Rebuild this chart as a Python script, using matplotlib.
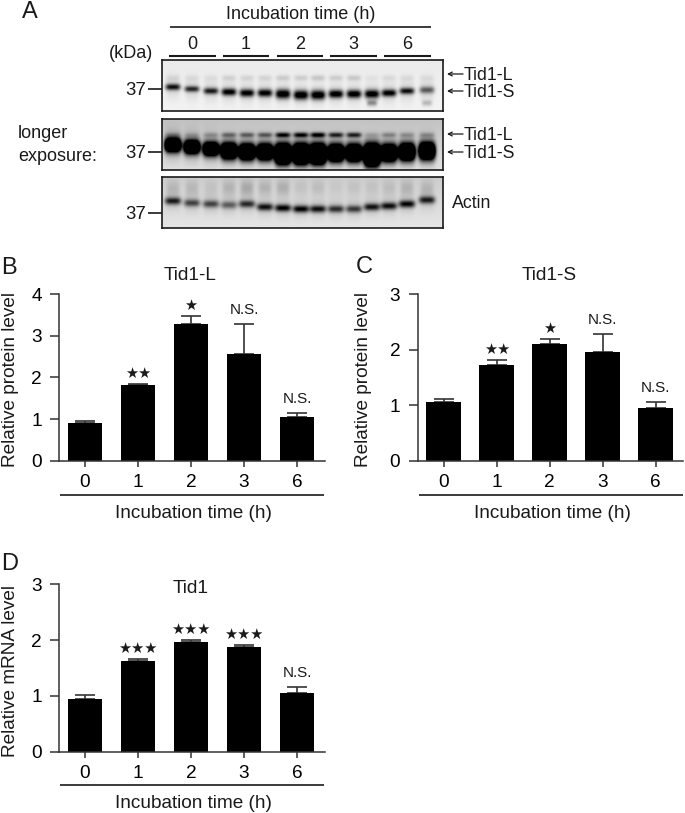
import matplotlib

matplotlib.use("Agg")
import matplotlib.pyplot as plt
import numpy as np

plt.rcParams["font.family"] = ["Liberation Sans", "DejaVu Sans"]

WIDTH, HEIGHT = 685, 813
INK = "#1a1a1a"

hours = ["0", "1", "2", "3", "6"]

tid1l_mean = [0.90, 1.82, 3.28, 2.57, 1.05]
tid1l_err = [0.06, 0.03, 0.20, 0.71, 0.09]
tid1l_marks = ["", "★★", "★", "N.S.", "N.S."]

tid1s_mean = [1.05, 1.73, 2.11, 1.96, 0.95]
tid1s_err = [0.07, 0.09, 0.09, 0.33, 0.11]
tid1s_marks = ["", "★★", "★", "N.S.", "N.S."]

mrna_mean = [0.95, 1.63, 1.96, 1.88, 1.06]
mrna_err = [0.06, 0.04, 0.04, 0.04, 0.10]
mrna_marks = ["", "★★★", "★★★", "★★★", "N.S."]

# blot lanes (pixels across the image)
lane_x = [173, 192, 211, 229, 247, 265, 283, 301, 318, 336, 354, 372, 389, 407, 427]

short_y = [87, 89, 91, 92, 93, 93, 94, 95, 95, 94, 94, 94, 93, 91, 90]
short_dark = [0.8, 0.7, 0.75, 0.9, 0.9, 0.9, 1.0, 1.0, 1.0, 0.95, 0.95, 0.95, 0.9, 0.8, 0.5]
short_tall = [3.2, 3, 3.2, 3.6, 3.8, 3.8, 4.6, 4.6, 4.6, 4, 4, 4.2, 3.6, 3.2, 3.4]
short_faint = [0.06, 0.05, 0.05, 0.1, 0.09, 0.09, 0.13, 0.12, 0.15, 0.12, 0.14, 0.04, 0.07, 0.06, 0.05]
short_tail = [0, 0, 0, 0, 0, 0, 0, 0, 0, 0, 0, 0.35, 0, 0, 0.2]

long_y = [145, 147, 149, 151, 152, 152, 154, 154, 154, 153, 153, 155, 153, 152, 151]
long_dark = [2.0, 1.9, 1.9, 2.2, 2.2, 2.2, 3.0, 3.0, 3.0, 2.3, 2.3, 3.0, 2.2, 2.2, 2.2]
long_tall = [6.5, 6.5, 6.5, 7.5, 7.5, 7.5, 9, 9, 9, 8, 8, 10, 8, 8, 8]
long_faint = [0.12, 0.1, 0.18, 0.35, 0.4, 0.42, 0.75, 0.75, 0.8, 0.65, 0.65, 0.12, 0.25, 0.2, 0.2]

actin_y = [201, 203, 204, 205, 204, 207, 208, 209, 209, 209, 209, 207, 206, 204, 200]
actin_dark = [0.65, 0.5, 0.5, 0.4, 0.6, 0.72, 0.78, 0.78, 0.72, 0.6, 0.55, 0.7, 0.72, 0.75, 0.65]
actin_haze = [0.1, 0.1, 0.06, 0.12, 0.16, 0.12, 0.14, 0.06, 0.08, 0.04, 0.06, 0.06, 0.08, 0.12, 0.1]


def px_axes(fig, left, top, right, bottom):
    return fig.add_axes(
        [left / WIDTH, 1 - bottom / HEIGHT, (right - left) / WIDTH, (bottom - top) / HEIGHT]
    )


def draw_blot(fig, top, bottom, shade, bands):
    left, right = 162, 443
    ax = px_axes(fig, left, top, right, bottom)
    xx, yy = np.meshgrid(np.arange(left, right) + 0.5, np.arange(top, bottom) + 0.5)
    background = shade[0] + (shade[1] - shade[0]) * (yy - top) / (bottom - top)
    darkness = np.zeros_like(xx)
    for centres, strengths, tall, wide in bands:
        for x, y, strength, t in zip(lane_x, centres, strengths, tall):
            across = np.exp(-(((xx - x) / wide) ** 4))
            darkness += strength * across * np.exp(-(((yy - y) / t) ** 2))
    image = np.clip(background - darkness, 0, 1)
    ax.imshow(
        image,
        cmap="gray",
        vmin=0,
        vmax=1,
        aspect="auto",
        interpolation="bilinear",
        extent=(left, right, bottom, top),
    )
    ax.set_xticks([])
    ax.set_yticks([])
    for spine in ax.spines.values():
        spine.set_linewidth(1.2)
        spine.set_color(INK)


def draw_bars(fig, box, ymax, mean, err, marks):
    left, top, right, bottom = box
    ax = px_axes(fig, left, top, right, bottom)
    x = np.arange(len(hours))
    ax.bar(x, mean, width=0.65, color="black", zorder=2)
    ax.errorbar(
        x,
        mean,
        yerr=[np.zeros(len(err)), err],
        fmt="none",
        ecolor="#333333",
        elinewidth=1.2,
        capsize=7.5,
        capthick=1.2,
        zorder=1,
    )
    ax.set_xlim(-26 / 53, (right - left - 26) / 53)
    ax.set_ylim(0, ymax)
    ax.set_yticks(range(ymax + 1))
    ax.set_xticks(x, hours)
    ax.spines[["top", "right"]].set_visible(False)
    ax.spines[["left", "bottom"]].set_linewidth(1.1)
    ax.spines[["left", "bottom"]].set_color("#333333")
    ax.tick_params(axis="y", length=6.5, width=1.1, color="#333333", pad=6, labelsize=13.7)
    ax.tick_params(axis="x", length=4.5, width=1.1, color="#333333", pad=5, labelsize=13.7)
    for xi, m, e, mark in zip(x, mean, err, marks):
        if not mark:
            continue
        if mark.startswith("N"):
            ax.annotate(mark, (xi, m + e), xytext=(0, 5), textcoords="offset points",
                        ha="center", va="bottom", fontsize=11, color=INK)
        else:
            ax.annotate(mark, (xi, m + e), xytext=(0, 2), textcoords="offset points",
                        ha="center", va="bottom", fontsize=10.5, color=INK,
                        family=["DejaVu Sans"])
    return ax


fig = plt.figure(figsize=(WIDTH / 100, HEIGHT / 100), dpi=100)

draw_blot(fig, 60, 111, (0.92, 0.95), [
    (short_y, short_dark, short_tall, 7.5),
    (short_y, [0.1] * 15, [11] * 15, 7),
    ([78] * 15, short_faint, [3] * 15, 7),
    ([103] * 15, short_tail, [3] * 15, 5),
])
draw_blot(fig, 119, 170, (0.76, 0.88), [
    (long_y, long_dark, long_tall, 8.2),
    (long_y, [0.2] * 15, [14] * 15, 8),
    ([135] * 15, long_faint, [2.6] * 15, 7.5),
])
draw_blot(fig, 177, 228, (0.8, 0.9), [
    (actin_y, actin_dark, [3.6] * 15, 8.2),
    ([188] * 15, actin_haze, [8] * 15, 6.5),
    (actin_y, [0.1] * 15, [9] * 15, 7.5),
])

draw_bars(fig, (59, 294.3, 325, 460.7), 4, tid1l_mean, tid1l_err, tid1l_marks)
draw_bars(fig, (417.7, 294.3, 683, 460.7), 3, tid1s_mean, tid1s_err, tid1s_marks)
draw_bars(fig, (59, 584.3, 325, 751.7), 3, mrna_mean, mrna_err, mrna_marks)

# everything around the plots sits on one overlay in image pixels
over = fig.add_axes([0, 0, 1, 1], zorder=5)
over.set_xlim(0, WIDTH)
over.set_ylim(HEIGHT, 0)
over.axis("off")


def label(x, y, text, size=13.7, ha="center", **kw):
    over.text(x, y + 1.5, text, fontsize=size, ha=ha, va="center", color=INK, **kw)


def side_label(x, y, text):
    over.text(x, y, text, fontsize=13.7, ha="center", va="center", color=INK, rotation=90)


def rule(x0, x1, y, lw=1.2):
    over.plot([x0, x1], [y, y], color=INK, lw=lw, solid_capstyle="butt")


def arrow(x0, x1, y):
    over.annotate("", xy=(x1, y), xytext=(x0, y),
                  arrowprops=dict(arrowstyle="->", lw=0.9, color=INK, mutation_scale=7,
                                  shrinkA=0, shrinkB=0))


for letter, x, y in [("A", 22, 11), ("B", 1, 266), ("C", 356, 265), ("D", 1, 562)]:
    label(x, y, letter, size=17, ha="left")

label(301, 13, "Incubation time (h)", size=13)
rule(170, 431, 27)
for name, x0, x1 in zip(hours, [169, 223, 277, 330, 384], [216, 269, 323, 377, 431]):
    label((x0 + x1) / 2, 43, name, size=13)
    rule(x0, x1, 56, lw=1.5)

label(131, 52, "(kDa)", size=13)
label(18, 132, "longer", size=13, ha="left")
label(18, 155, "exposure:", size=13, ha="left")
for y in [89, 152, 213]:
    label(136, y, "37", size=13.4)
    rule(148, 162, y)

for y, name in [(74, "Tid1-L"), (91, "Tid1-S"), (134, "Tid1-L"), (152, "Tid1-S")]:
    arrow(463, 447, y)
    label(464, y, name, size=12.8, ha="left")
label(452, 202, "Actin", size=12.8, ha="left")

label(190, 274, "Tid1-L")
label(549, 274, "Tid1-S")
label(191, 587, "Tid1")

side_label(11, 379, "Relative protein level")
side_label(364, 379, "Relative protein level")
side_label(11, 671, "Relative mRNA level")

for x0, x1, line_y, text_y, centre in [
    (60, 324, 495, 512, 193),
    (419, 683, 495, 512, 552),
    (60, 324, 785, 802, 193),
]:
    rule(x0, x1, line_y)
    label(centre, text_y, "Incubation time (h)")

fig.savefig("out.png", dpi=100)
